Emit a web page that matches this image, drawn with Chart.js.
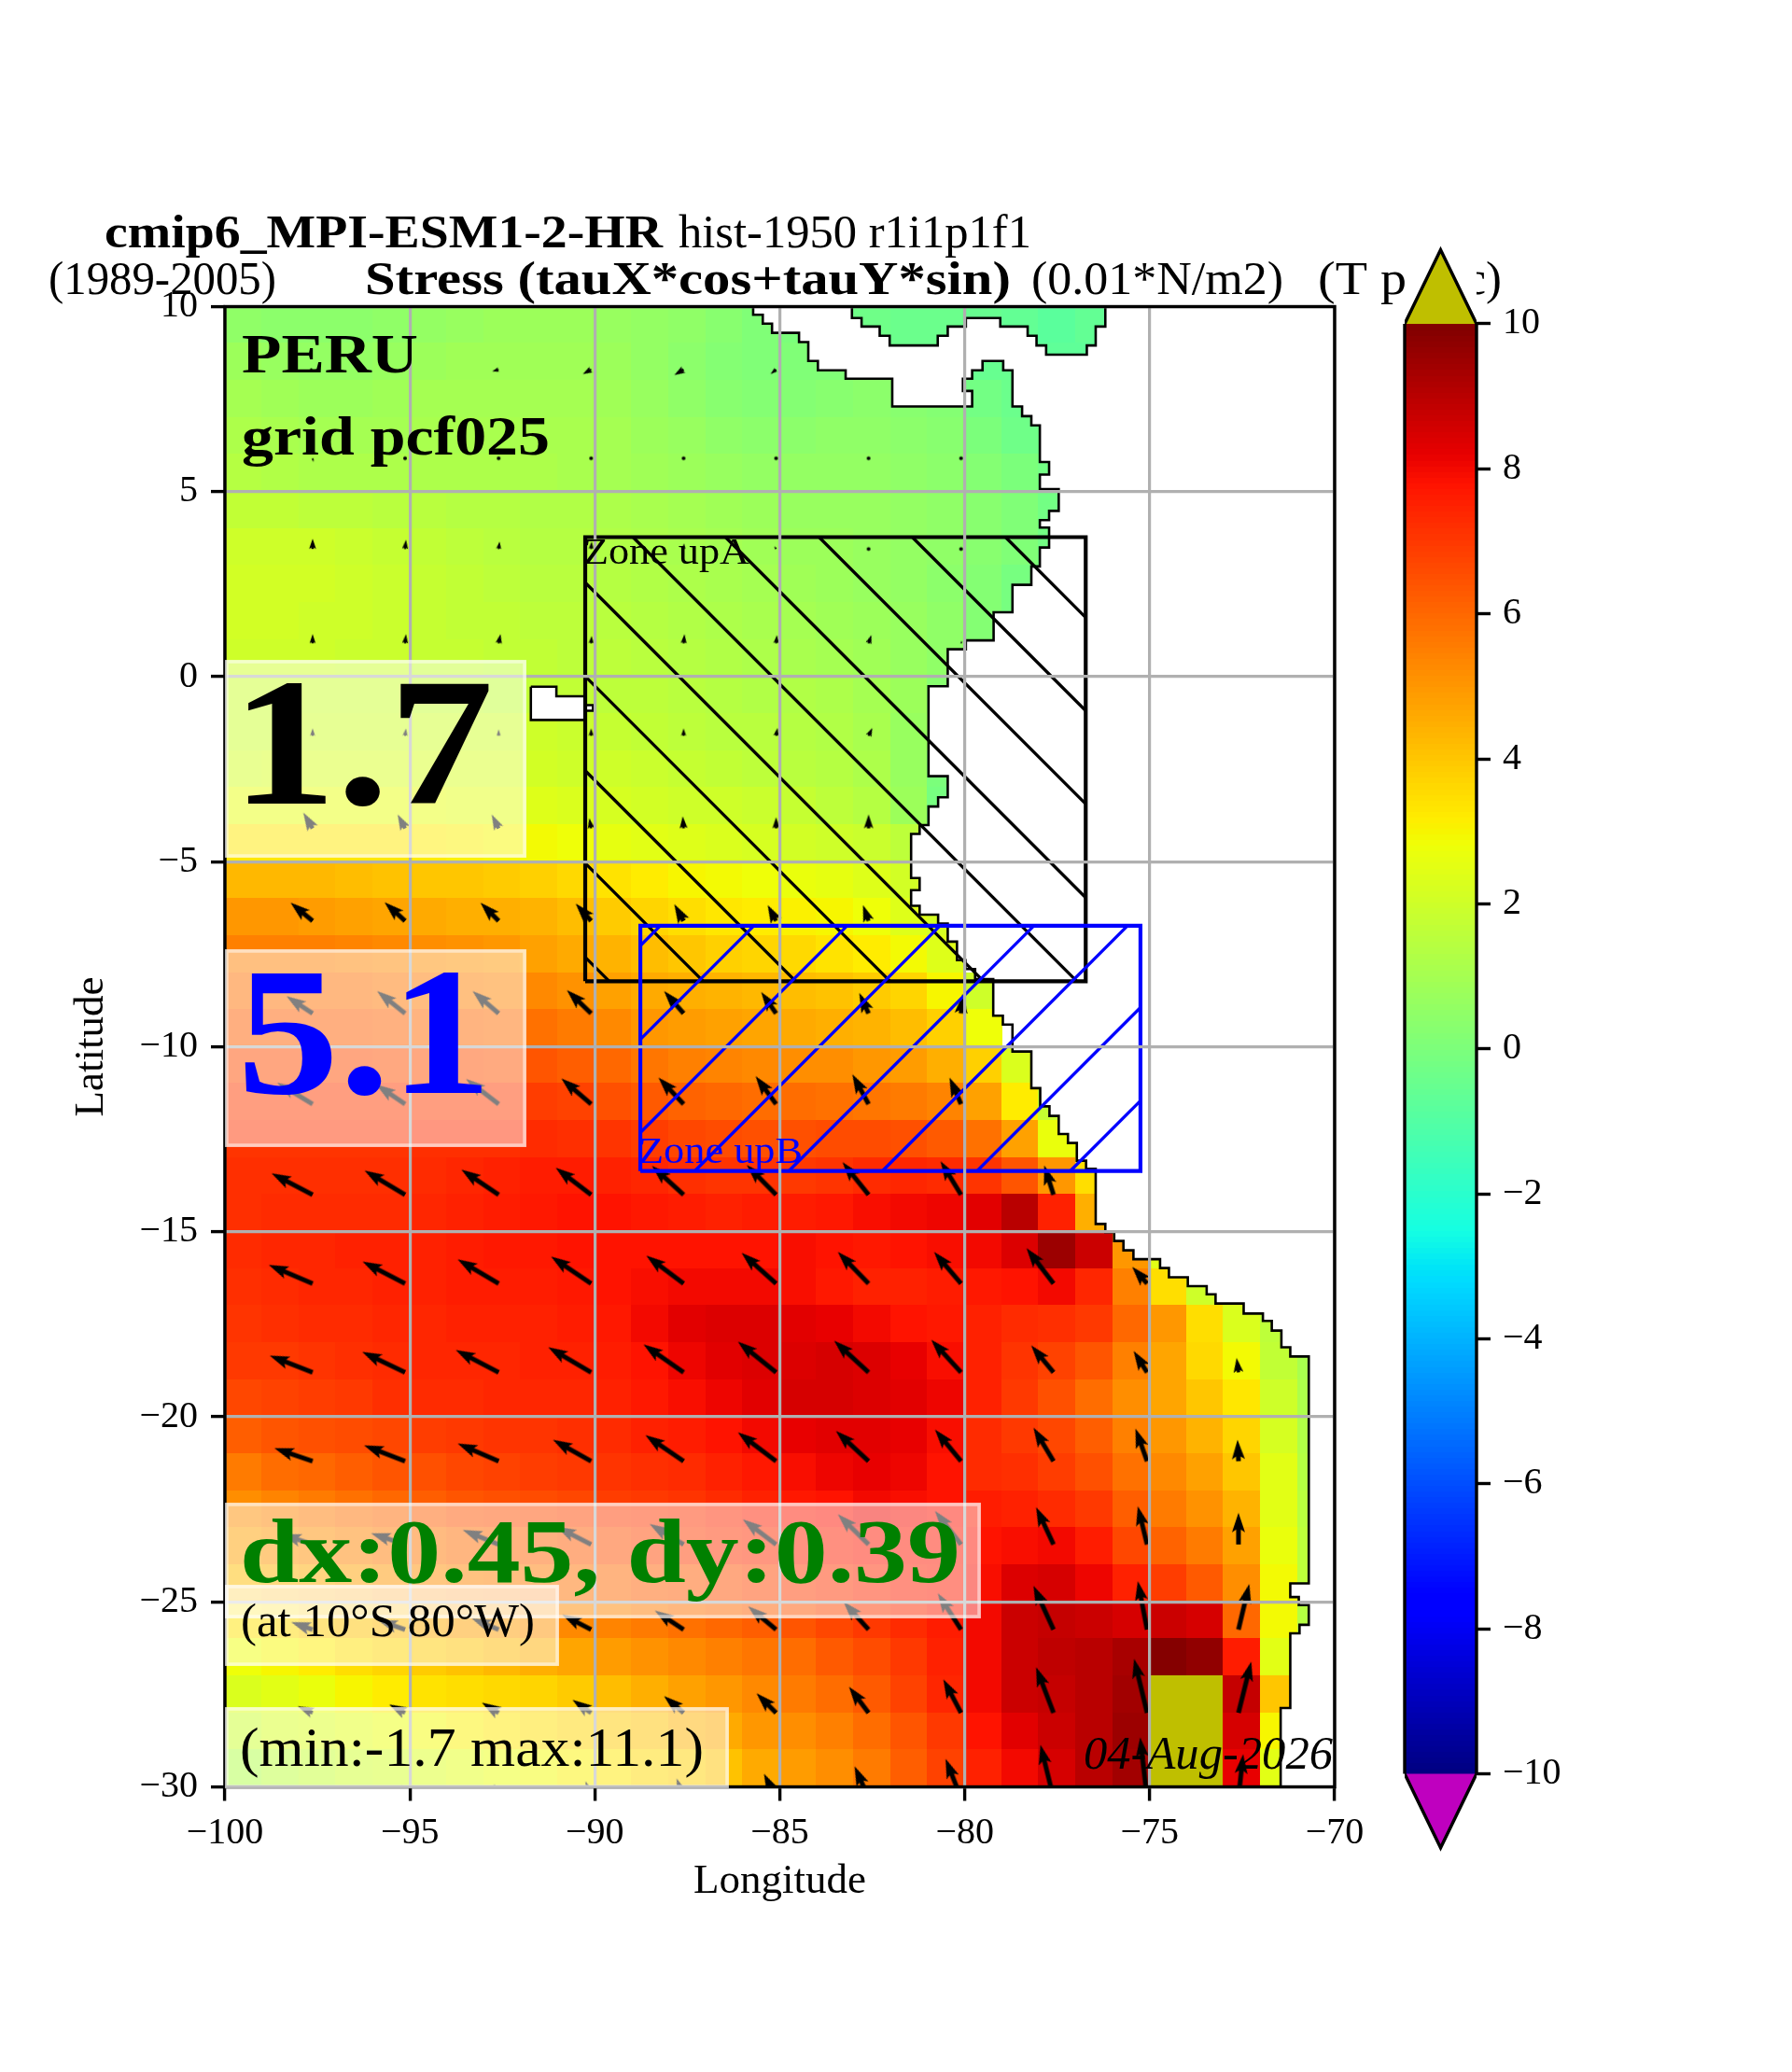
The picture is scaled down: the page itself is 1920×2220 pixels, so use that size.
<!DOCTYPE html>
<html><head><meta charset="utf-8">
<style>html,body{margin:0;padding:0;background:#fff;width:1920px;height:2220px;overflow:hidden}canvas{position:absolute;display:block}</style>
<script src="https://cdn.jsdelivr.net/npm/chart.js@4/dist/chart.umd.js"></script>
</head><body>
<canvas id="main" width="1920" height="2220" style="left:0;top:0;width:1920px;height:2220px"></canvas>
<canvas id="cbar" width="300" height="1820" style="left:1440px;top:203px;width:300px;height:1820px"></canvas>
<script>
const _ = null;
const lonTicks = [-100,-95,-90,-85,-80,-75,-70];
const latTicks = [-30,-25,-20,-15,-10,-5,0,5,10];
const colorbarTicks = [-10,-8,-6,-4,-2,0,2,4,6,8,10];
const heatLons = [-99.5,-98.5,-97.5,-96.5,-95.5,-94.5,-93.5,-92.5,-91.5,-90.5,-89.5,-88.5,-87.5,-86.5,-85.5,-84.5,-83.5,-82.5,-81.5,-80.5,-79.5,-78.5,-77.5,-76.5,-75.5,-74.5,-73.5,-72.5,-71.5,-70.5];
const heatLats = [9.5,8.5,7.5,6.5,5.5,4.5,3.5,2.5,1.5,0.5,-0.5,-1.5,-2.5,-3.5,-4.5,-5.5,-6.5,-7.5,-8.5,-9.5,-10.5,-11.5,-12.5,-13.5,-14.5,-15.5,-16.5,-17.5,-18.5,-19.5,-20.5,-21.5,-22.5,-23.5,-24.5,-25.5,-26.5,-27.5,-28.5,-29.5];
const heatValues = [
[.5,.4,.4,.4,.5,.6,.7,.8,.8,.8,.7,.6,.5,.3,.1,0,_,-.3,-.4,-.4,-.5,-.6,-.8,-.6],
[.8,.7,.6,.6,.7,.8,.9,.9,.9,.9,.8,.6,.4,.2,.1,.1,.1,_,_,_,-.5,-.5,-.7,-.7],
[1,.9,.8,.8,.9,1,1,1,1,1,.9,.7,.5,.3,.2,.2,.3,.4,.3,.2,-.2,-.4],
[1.2,1.1,1,1,1,1.1,1.1,1.1,1.1,1.1,1,.8,.7,.5,.4,.4,.5,.5,.4,.3,0,-.3],
[1.4,1.3,1.2,1.2,1.2,1.2,1.2,1.2,1.2,1.1,1,.9,.8,.7,.6,.6,.6,.6,.5,.4,.2,0,-.2],
[1.7,1.7,1.6,1.6,1.5,1.5,1.4,1.4,1.3,1.3,1.2,1.1,1,.9,.8,.7,.7,.7,.6,.5,.3,.1,-.2],
[2,2,2,1.9,1.8,1.7,1.6,1.5,1.4,1.4,1.3,1.2,1.1,1,.9,.8,.8,.7,.6,.5,.3,.1,-.2],
[2.1,2.1,2.1,2,1.9,1.8,1.7,1.6,1.5,1.5,1.4,1.3,1.2,1.1,1,.9,.8,.7,.6,.4,.2,-.1],
[2.1,2.1,2,2,1.9,1.8,1.7,1.7,1.6,1.6,1.5,1.4,1.3,1.2,1.1,1,.9,.8,.7,.5,.2,-.1],
[2,2,2,1.9,1.9,1.8,1.8,1.7,1.7,1.6,1.6,1.5,1.4,1.3,1.2,1.1,1,.9,.7,.5,.3],
[1.9,1.9,1.9,1.9,1.9,1.8,1.8,1.7,1.7,1.7,1.6,1.6,1.5,1.4,1.3,1.3,1.2,1,.8,.3],
[1.9,1.9,2,2,2,2,2,2,2,1.9,1.8,1.7,1.6,1.5,1.5,1.4,1.3,1.1,.7],
[2.1,2.2,2.2,2.2,2.2,2.2,2.2,2.2,2.1,2,2,1.9,1.8,1.7,1.6,1.5,1.4,1.2,.7,0],
[2.6,2.6,2.6,2.6,2.6,2.6,2.5,2.5,2.4,2.3,2.2,2.1,2,2,1.9,1.8,1.6,1.4,.8,-.1],
[3.3,3.3,3.3,3.3,3.3,3.2,3.1,3,2.9,2.8,2.6,2.5,2.4,2.3,2.2,2.1,2,1.9,1.6],
[4.3,4.3,4.3,4.2,4.1,4,4,3.9,3.8,3.6,3.4,3.2,3,2.9,2.8,2.7,2.6,2.4,2.1],
[5,5,4.9,4.8,4.7,4.6,4.5,4.5,4.4,4.2,3.9,3.7,3.5,3.3,3.2,3.1,3,2.8,2.4,2.2],
[5.5,5.5,5.5,5.4,5.3,5.2,5.1,5,4.8,4.6,4.4,4.2,4,3.8,3.7,3.6,3.4,3.2,2.9,2.4],
[5.8,5.8,5.8,5.8,5.7,5.6,5.5,5.4,5.3,5.1,4.8,4.6,4.5,4.4,4.3,4.2,4.1,3.9,3.7,3,2],
[6.2,6.2,6.2,6.2,6.1,6,6,5.9,5.8,5.6,5.3,5,4.9,4.8,4.7,4.6,4.5,4.4,4.2,3.8,2.8],
[6.6,6.6,6.6,6.6,6.5,6.5,6.5,6.4,6.4,6.2,6,5.7,5.5,5.4,5.3,5.2,5.2,5,4.9,4.5,3.8,2.3],
[6.9,6.9,6.9,6.9,6.9,6.9,6.9,6.9,6.9,6.8,6.5,6.3,6.1,6,5.9,5.9,5.8,5.7,5.6,5.4,4.8,3.2,1.8],
[7.1,7.1,7.1,7.1,7.1,7.2,7.2,7.2,7.3,7.2,7.1,6.9,6.7,6.6,6.5,6.5,6.6,6.6,6.5,6.3,5.8,4.8,2.7],
[7.2,7.2,7.2,7.2,7.2,7.3,7.4,7.5,7.6,7.6,7.5,7.4,7.2,7.1,7.1,7,7.1,7.3,7.4,7.3,7.1,6.4,5,3.5],
[7.2,7.3,7.3,7.3,7.3,7.4,7.5,7.6,7.7,7.8,7.8,7.7,7.6,7.5,7.6,7.6,7.7,7.9,8,8.1,8.3,9,7.5,4.5],
[7.3,7.4,7.4,7.5,7.5,7.5,7.6,7.7,7.7,7.8,7.8,7.8,7.8,7.8,7.8,7.9,7.8,7.7,7.8,7.9,8,8.4,9.5,8.7,5,2.5],
[7.2,7.3,7.4,7.4,7.5,7.5,7.6,7.6,7.6,7.7,7.8,7.9,8,8,8,7.9,7.7,7.5,7.5,7.6,7.7,7.8,8,7.4,5.5,3.5,2,1.6],
[7.1,7.2,7.3,7.3,7.4,7.4,7.5,7.5,7.5,7.6,7.7,8,8.3,8.4,8.4,8.3,8.2,8,7.8,7.7,7.5,7.3,7.2,7,6,5,3.5,2.3,1.6],
[7,7,7.1,7.2,7.3,7.4,7.4,7.4,7.5,7.5,7.6,7.8,8.1,8.3,8.4,8.4,8.5,8.4,8.2,7.9,7.5,7.1,6.8,6.4,5.5,4.7,3.6,2.9,1.7,1.1],
[6.7,6.8,6.9,7,7.2,7.3,7.3,7.4,7.4,7.4,7.5,7.7,7.9,8.1,8.3,8.5,8.5,8.4,8.3,8.1,7.5,7,6.5,5.9,5.2,4.7,4,3.3,2,1.2],
[6.2,6.4,6.5,6.6,6.7,6.9,7,7.1,7.1,7.2,7.3,7.5,7.6,7.8,8,8.2,8.3,8.3,8.2,7.9,7.3,7,6.7,6.2,5.5,5,4.4,3.7,2.2,1.3],
[5.6,5.9,6,6.2,6.4,6.5,6.7,6.8,6.9,7,7.1,7.2,7.3,7.5,7.7,7.9,8.1,8.2,8.1,7.8,7.3,7.2,6.9,6.5,5.8,5.3,4.8,4,2.5,1.4],
[5.2,5.4,5.6,5.8,6,6.2,6.4,6.5,6.6,6.7,6.9,7,7.1,7.3,7.5,7.7,7.8,8,7.9,7.8,7.6,7.5,7.3,7,6.2,5.6,5.1,4.4,2.5,1.5],
[4.8,5,5.2,5.4,5.6,5.7,5.9,6,6.1,6.3,6.5,6.7,6.9,7.1,7.2,7.4,7.5,7.7,7.7,7.7,7.8,7.9,8,7.6,6.7,6.1,5.6,4.8,2.7,1.6],
[4.2,4.4,4.6,4.8,5,5.2,5.4,5.5,5.6,5.8,6,6.2,6.3,6.5,6.7,6.9,7.1,7.3,7.5,7.6,7.9,8.4,8.5,8.1,7.5,6.9,6.3,5.2,2.9,1.6],
[3.4,3.6,3.9,4.1,4.3,4.6,4.8,4.9,5.1,5.3,5.4,5.6,5.8,6,6.2,6.4,6.7,7,7.3,7.6,8,8.7,8.8,8.7,8.5,8.7,8.5,6,2.9,1.4],
[2.8,3,3.2,3.5,3.7,3.9,4.1,4.3,4.5,4.7,4.9,5.1,5.3,5.5,5.7,5.9,6.3,6.6,7,7.5,8,8.7,8.9,9,9.3,9.9,9.7,7.6,2.5],
[2.3,2.5,2.7,3,3.2,3.4,3.5,3.6,3.7,3.9,4.2,4.5,4.8,5,5.3,5.6,5.9,6.3,6.8,7.4,8,8.7,8.8,9,9.4,10.6,10.6,8.8,4],
[1.9,2.2,2.3,2.5,2.7,2.9,3.1,3.3,3.5,3.7,3.9,4.1,4.4,4.6,5,5.2,5.5,5.9,6.4,7,7.8,8.3,8.7,9,9.5,10.6,10.6,8.5,3],
[1.3,1.6,1.8,2,2.1,2.3,2.5,2.7,2.9,3.1,3.3,3.6,3.8,4.1,4.6,4.9,5.2,5.6,6.2,6.8,7.5,8,8.5,9,9.4,10.6,10.6,8.2,2.5]
];
const coastLonLat = [
[-85.72,10],[-85.72,9.78],[-85.46,9.78],[-85.46,9.54],[-85.21,9.54],[-85.21,9.29],[-84.48,9.29],[-84.48,9.04],[-84.23,9.04],[-84.23,8.53],[-83.97,8.53],[-83.97,8.28],[-83.22,8.28],[-83.22,8.05],[-81.96,8.05],[-81.96,7.30],[-79.80,7.30],[-79.80,7.72],[-80.05,7.72],[-80.05,8.05],[-79.80,8.05],[-79.80,8.28],[-79.52,8.28],[-79.52,8.53],[-78.96,8.53],[-78.96,8.28],[-78.71,8.28],[-78.71,7.30],[-78.45,7.30],[-78.45,7.04],[-78.20,7.04],[-78.20,6.79],[-77.97,6.79],[-77.97,5.80],[-77.72,5.80],[-77.72,5.46],[-77.97,5.46],[-77.97,5.07],[-77.46,5.07],[-77.46,4.48],[-77.72,4.48],[-77.72,4.23],[-77.97,4.23],[-77.97,4.03],[-77.72,4.03],[-77.72,3.49],[-77.97,3.49],[-77.97,2.98],[-78.20,2.98],[-78.20,2.48],[-78.71,2.48],[-78.71,1.74],[-79.22,1.74],[-79.22,0.98],[-79.97,0.98],[-79.97,0.74],[-80.46,0.74],
[-80.46,-0.26],[-80.98,-0.26],[-80.98,-2.69],[-80.46,-2.69],[-80.46,-3.26],[-80.72,-3.26],[-80.72,-3.51],[-80.98,-3.51],[-80.98,-4.01],[-81.22,-4.01],[-81.22,-4.25],[-81.45,-4.25],[-81.45,-5.44],[-81.22,-5.44],[-81.22,-5.77],[-81.45,-5.77],[-81.45,-6.19],[-81.22,-6.19],[-81.22,-6.43],[-80.72,-6.43],[-80.72,-6.67],[-80.46,-6.67],[-80.46,-7.16],[-80.21,-7.16],[-80.21,-7.66],[-79.98,-7.66],[-79.98,-7.90],[-79.72,-7.90],[-79.72,-8.17],[-79.23,-8.17],[-79.23,-9.16],[-78.97,-9.16],[-78.97,-9.40],[-78.71,-9.40],[-78.71,-10.13],[-78.20,-10.13],[-78.20,-11.12],[-77.96,-11.12],[-77.96,-11.61],[-77.71,-11.61],[-77.71,-11.87],[-77.46,-11.87],[-77.46,-12.36],[-77.21,-12.36],[-77.21,-12.60],[-76.97,-12.60],[-76.97,-13.08],[-76.72,-13.08],
[-76.72,-13.30],[-76.46,-13.30],[-76.46,-14.79],[-76.20,-14.79],[-76.20,-15.01],[-75.96,-15.01],[-75.96,-15.25],[-75.71,-15.25],[-75.71,-15.50],[-75.44,-15.50],[-75.44,-15.74],[-74.72,-15.74],[-74.72,-15.98],[-74.48,-15.98],[-74.48,-16.23],[-73.97,-16.23],[-73.97,-16.47],[-73.46,-16.47],[-73.46,-16.69],[-73.22,-16.69],[-73.22,-16.94],[-72.46,-16.94],[-72.46,-17.21],[-71.94,-17.21],[-71.94,-17.41],[-71.70,-17.41],[-71.70,-17.67],[-71.44,-17.67],[-71.44,-18.12],[-71.2,-18.12],[-71.2,-18.37],[-70.70,-18.37],[-70.70,-24.50],[-71.2,-24.50],[-71.2,-24.87],[-70.97,-24.87],[-70.97,-25.09],[-70.70,-25.09],[-70.70,-25.62],[-70.95,-25.62],[-70.95,-25.85],[-71.2,-25.85],[-71.2,-27.87],[-71.46,-27.87],[-71.46,-30],
[-70,-30],[-70,10],[-76.20,10],[-76.20,9.46],[-76.46,9.46],[-76.46,8.95],[-76.70,8.95],[-76.70,8.70],[-77.80,8.70],[-77.80,8.95],[-78.06,8.95],[-78.06,9.21],[-78.30,9.21],[-78.30,9.46],[-79.04,9.46],[-79.04,9.69],[-79.97,9.69],[-79.97,9.46],[-80.46,9.46],[-80.46,9.21],[-80.73,9.21],[-80.73,8.95],[-82.03,8.95],[-82.03,9.21],[-82.30,9.21],[-82.30,9.46],[-82.79,9.46],[-82.79,9.69],[-83.05,9.69],[-83.05,10],[-85.72,10]
];
const islandLonLat = [[-91.73,-0.27],[-91.04,-0.27],[-91.04,-0.53],[-90.26,-0.53],[-90.26,-0.77],[-90.05,-0.77],[-90.05,-0.92],[-90.26,-0.92],[-90.26,-1.17],[-91.73,-1.17],[-91.73,-0.27]];
const arrowLats = [8.3,5.9,3.45,0.9,-1.6,-4.1,-6.6,-9.1,-11.55,-14,-16.4,-18.8,-21.2,-23.45,-25.75,-28,-30.3];
const arrowLons = [-97.63,-95.13,-92.6,-90.1,-87.6,-85.1,-82.6,-80.1,-77.6,-75.07,-72.6];
const arrowU = [
[-6,-6,-7,-9,-10,-6],
[1,0,0,0,0,0,0,0],
[0,1,1,.5,.5,-2,0,0],
[0,1,2,.5,1,1,3,1],
[0,1,0,0,0,1.5,4],
[-10,-8,-7.5,-2,-1,0,0],
[-23.6,-22,-19.5,-16.6,-10,-9,-6],
[-28,-30,-28,-26,-21,-16,-10,2],
[-38,-31,-35,-32,-27,-22,-17.4,-12.4],
[-44,-43.5,-40,-38,-34,-31.5,-28,-22,-10],
[-47,-45.6,-44,-43,-40,-37,-33,-29,-29,-16],
[-46,-46,-46,-46,-43,-41,-37,-32,-24,-14.5,-2],
[-41,-44,-44,-41,-41,-41,-35,-28,-21.5,-12.5,-1],
[-33,-36.5,-38.6,-37,-36.5,-35.7,-33,-28,-18.7,-10,0],
[-23,-29,-29,-31,-31,-30,-27,-25,-21.5,-10,11.6],
[-16,-17,-18,-20,-21,-21,-21,-19,-18.7,-14,13.7],
[-3,-4,-5,-6,-7.5,-13,-15,-16.6,-14,-7.5,5]
];
const arrowV = [
[-2,-2,-2,-5,-6,-5],
[-4,-.5,-.5,-.5,-.5,-.5,-.5,-.5],
[11,10,8,8,6,3,.5,.5],
[10,10,10,8,10,9,9,3],
[8,8,7,8,8,8.5,8.5],
[17,15,15,11,13,12,15],
[19.6,20,19.6,18.6,18,17,17],
[18.5,24,24,25,24,23,22,21],
[23,21,27,27.5,28.5,30,32,28.5],
[23,26,27,29,31,32,35,36,31.5],
[20,23.6,26,29,30,33,34,34,38,18],
[18,22,24,27,30,33,34,35,29,23,15.5],
[14,17,19,23,28,31,32.5,34,36,35,23],
[11,12,15.6,19,22,27,32.5,36,40,41,34],
[8,10,12,16,20.5,25,30,39,47,52,49],
[7,9,11,14,18,21,28,36,49,58,55],
[12,14,15,18,21,26,34,42,57,65,47]
];
const zoneABox = {lonMin:-90.26,lonMax:-76.73,latMin:-8.23,latMax:3.77};
const zoneBBox = {lonMin:-88.77,lonMax:-75.25,latMin:-13.36,latMax:-6.73};
const zoneAHatch = [-75.13,-77.65,-80.17,-82.7,-85.2,-87.72,-90.25,-92.8,-95.3,-97.84];
const zoneBHatch = [81.5,78.97,76.45,73.94,71.4,68.87,66.31,63.79];

const SERIF = '"Liberation Serif"';
function lerp(pts,t){for(let i=1;i<pts.length;i++){if(t<=pts[i][0]){const a=pts[i-1],b=pts[i];return a[1]+(b[1]-a[1])*(t-a[0])/(b[0]-a[0]);}}return pts[pts.length-1][1];}
function jet(v){
  if(v>10)return '#bfbf00'; if(v<-10)return '#bf00bf';
  const t=(v+10)/20;
  const r=lerp([[0,0],[.35,0],[.66,1],[.89,1],[1,.5]],t),g=lerp([[0,0],[.125,0],[.375,1],[.64,1],[.91,0],[1,0]],t),b=lerp([[0,.5],[.11,1],[.34,1],[.65,0],[1,0]],t);
  return `rgb(${Math.round(r*255)},${Math.round(g*255)},${Math.round(b*255)})`;
}
const cellCache={};
function cellImage(color,w,h){
  const k=color+w+'x'+h; if(cellCache[k])return cellCache[k];
  const c=document.createElement('canvas');c.width=w;c.height=h;
  const x=c.getContext('2d');x.fillStyle=color;x.fillRect(0,0,w,h);
  return cellCache[k]=c;
}
function arrowImage(L){
  const pad=14,W=Math.ceil(2*L+2*pad),H=2*pad,c=document.createElement('canvas');c.width=W;c.height=H;
  const x=c.getContext('2d');x.translate(W/2,H/2);x.fillStyle='#000';
  if(L<2){x.beginPath();x.arc(0,0,2,0,7);x.fill();return c;}
  const s=Math.min(1,L/21),sw=5*s,hl=21*s,hal=18*s,hw=14*s;
  x.beginPath();x.moveTo(0,-sw/2);x.lineTo(L-hal,-sw/2);x.lineTo(L-hl,-hw/2);x.lineTo(L,0);x.lineTo(L-hl,hw/2);x.lineTo(L-hal,sw/2);x.lineTo(0,sw/2);x.closePath();x.fill();
  return c;
}
function xy(list){return list.map(p=>({x:p[0],y:p[1]}));}
function hatch(box,consts,sign){ // sign -1: lat+lon=c ; +1: lat-lon=c
  const out=[];
  for(const c of consts){
    const f=lon=>sign<0?c-lon:c+lon, inv=lat=>sign<0?c-lat:lat-c;
    let a=[box.lonMin,f(box.lonMin)],b=[box.lonMax,f(box.lonMax)];
    const fix=p=>{if(p[1]>box.latMax)return[inv(box.latMax),box.latMax];if(p[1]<box.latMin)return[inv(box.latMin),box.latMin];return p;};
    a=fix(a);b=fix(b);
    out.push({x:a[0],y:a[1]},{x:b[0],y:b[1]},{x:NaN,y:NaN});
  }
  return out;
}
function rectPts(b){return [[b.lonMin,b.latMin],[b.lonMin,b.latMax],[b.lonMax,b.latMax],[b.lonMax,b.latMin],[b.lonMin,b.latMin]];}

const heatPoints=[];
heatLats.forEach((lat,r)=>heatLons.forEach((lon,c)=>{const v=heatValues[r][c];if(v!==null&&v!==undefined)heatPoints.push({x:lon,y:lat,v});}));
const arrowPoints=[];
arrowLats.forEach((lat,r)=>arrowU[r].forEach((u,c)=>arrowPoints.push({x:arrowLons[c],y:lat,u,v:arrowV[r][c]})));

function T(ctx,s,x0,x1,base,font,color){
  ctx.save();ctx.font=font;ctx.fillStyle=color||'#000';ctx.textBaseline='alphabetic';ctx.textAlign='left';
  const m=ctx.measureText(s).width;ctx.translate(x0,base);ctx.scale((x1-x0)/m,1);ctx.fillText(s,0,0);ctx.restore();
}
function box(ctx,x0,y0,x1,y1){
  ctx.save();ctx.fillStyle='rgba(255,255,255,.5)';ctx.fillRect(x0,y0,x1-x0,y1-y0);
  ctx.strokeStyle='rgba(255,255,255,.5)';ctx.lineWidth=3.5;ctx.strokeRect(x0+2,y0+2,x1-x0-4,y1-y0-4);ctx.restore();
}
const overlay={id:'overlay',afterDraw(ch){
  const c=ch.ctx,a=ch.chartArea;
  c.save();c.strokeStyle='#000';c.lineWidth=3.4;c.strokeRect(a.left,a.top,a.right-a.left,a.bottom-a.top);c.restore();
  const B='bold ',S='px '+SERIF;
  T(c,'PERU',259,448,399,B+'60'+S);
  T(c,'grid pcf025',259,589,487,B+'60'+S);
  T(c,'Zone upA',625,803,604,'40'+S);
  T(c,'Zone upB',684,860,1246,'40'+S,'#0000ff');
  box(c,241,707,564,919);T(c,'1.7',248,529,861,B+'196'+S);
  box(c,241,1017,564,1229);T(c,'5.1',254,527,1171,B+'196'+S,'#0000ff');
  box(c,241,1610,1051,1734);T(c,'dx:0.45, dy:0.39',257,1029,1695,B+'98'+S,'#008000');
  box(c,241,1698,599,1785);T(c,'(at 10°S 80°W)',258,573,1753,'50'+S);
  box(c,241,1829,781,1916);T(c,'(min:-1.7 max:11.1)',257,754,1892,'60'+S);
  T(c,'04-Aug-2026',1161,1428,1895,'italic 50'+S);
  T(c,'cmip6_MPI-ESM1-2-HR',112,710,265,B+'50'+S);
  T(c,'hist-1950 r1i1p1f1',727,1105,265,'50'+S);
  T(c,'(1989-2005)',52,296,315,'50'+S);
  T(c,'Stress (tauX*cos+tauY*sin)',391,1083,315,B+'50'+S);
  T(c,'(0.01*N/m2)',1105,1375,315,'50'+S);
  T(c,'(T p',1412,1507,315,'50'+S);
  T(c,'ac)',1547,1609,315,'50'+S);
}};
const fmt=v=>String(v).replace('-','\u2212');
const tickFont={family:SERIF,size:40};
new Chart(document.getElementById('main'),{
  type:'scatter',
  data:{datasets:[
    {label:'field',order:10,data:heatPoints,showLine:false,pointRadius:30,pointBorderWidth:0,
      pointStyle(ctx){return cellImage(jet(ctx.raw.v),41,41);}},
    {label:'land',order:9,data:xy(coastLonLat),showLine:true,fill:'shape',backgroundColor:'#fff',borderColor:'#000',borderWidth:2.6,pointRadius:0,tension:0},
    {label:'island',order:8,data:xy(islandLonLat),showLine:true,fill:'shape',backgroundColor:'#fff',borderColor:'#000',borderWidth:2.6,pointRadius:0,tension:0},
    {label:'stress',order:7,data:arrowPoints,showLine:false,pointRadius:70,pointBorderWidth:0,
      pointStyle(ctx){const d=ctx.raw;return arrowImage(Math.hypot(d.u,d.v));},
      rotation(ctx){const d=ctx.raw;return -Math.atan2(d.v,d.u)*180/Math.PI;}},
    {label:'Zone upA hatch',order:5,data:hatch(zoneABox,zoneAHatch,-1),showLine:true,spanGaps:false,borderColor:'#000',borderWidth:3.3,pointRadius:0},
    {label:'Zone upA',order:4,data:xy(rectPts(zoneABox)),showLine:true,borderColor:'#000',borderWidth:4.2,pointRadius:0},
    {label:'Zone upB hatch',order:3,data:hatch(zoneBBox,zoneBHatch,1),showLine:true,spanGaps:false,borderColor:'#0000ff',borderWidth:3.3,pointRadius:0},
    {label:'Zone upB',order:2,data:xy(rectPts(zoneBBox)),showLine:true,borderColor:'#0000ff',borderWidth:4.2,pointRadius:0}
  ]},
  options:{responsive:false,animation:false,devicePixelRatio:1,events:[],
    layout:{padding:{left:71,top:328.5,right:490,bottom:177}},
    plugins:{legend:{display:false},tooltip:{enabled:false}},
    scales:{
      x:{type:'linear',min:-100,max:-70,afterFit(s){s.height=128.5;},
        afterBuildTicks(s){s.ticks=lonTicks.map(v=>({value:v}));},
        ticks:{callback:fmt,font:tickFont,color:'#000',maxRotation:0,autoSkip:false,padding:11},
        grid:{color:'#b0b0b0',lineWidth:3.2,z:1,tickColor:'#000',tickWidth:3.4,tickLength:15},
        border:{display:false},
        title:{display:true,text:'Longitude',font:{family:SERIF,size:45},color:'#000',padding:{top:0,bottom:0}}},
      y:{type:'linear',min:-30,max:10,afterFit(s){s.width=170;},
        afterBuildTicks(s){s.ticks=latTicks.map(v=>({value:v}));},
        ticks:{callback:fmt,font:tickFont,color:'#000',autoSkip:false,padding:14},
        grid:{color:'#b0b0b0',lineWidth:3.2,z:1,tickColor:'#000',tickWidth:3.4,tickLength:15},
        border:{display:false},
        title:{display:true,text:'Latitude',font:{family:SERIF,size:45},color:'#000',padding:{top:0,bottom:0}}}
    }},
  plugins:[overlay]
});
const barLevels=[];for(let i=0;i<256;i++)barLevels.push(-10+(i+.5)*20/256);
const cbFrame={id:'cbFrame',
  beforeDatasetsDraw(ch){const c=ch.ctx,a=ch.chartArea,y=ch.scales.y;c.save();c.fillStyle='#fff';c.fillRect(a.left,y.getPixelForValue(11.02),a.right-a.left,y.getPixelForValue(10)-y.getPixelForValue(11.02));c.restore();},
  afterDraw(ch){const c=ch.ctx,a=ch.chartArea,y=ch.scales.y;c.save();c.strokeStyle='#000';c.lineWidth=3.4;c.beginPath();
    c.moveTo(a.left,y.getPixelForValue(10));c.lineTo(a.left,y.getPixelForValue(-10));c.moveTo(a.right,y.getPixelForValue(10));c.lineTo(a.right,y.getPixelForValue(-10));c.stroke();c.restore();}
};
new Chart(document.getElementById('cbar'),{
  type:'scatter',
  data:{datasets:[
    {label:'colorbar',order:3,data:barLevels.map(v=>({x:.5,y:v})),showLine:false,pointRadius:30,pointBorderWidth:0,
      pointStyle(ctx){return cellImage(jet(ctx.raw.y),77,8);}},
    {label:'over',order:2,data:[{x:0,y:10},{x:.5,y:11.02},{x:1,y:10}],showLine:true,fill:'shape',backgroundColor:'#bfbf00',borderColor:'#000',borderWidth:3.4,pointRadius:0},
    {label:'under',order:1,data:[{x:0,y:-10},{x:.5,y:-11.02},{x:1,y:-10}],showLine:true,fill:'shape',backgroundColor:'#bf00bf',borderColor:'#000',borderWidth:3.4,pointRadius:0}
  ]},
  options:{responsive:false,animation:false,devicePixelRatio:1,events:[],
    layout:{padding:{left:65,top:58.5,right:0,bottom:36.5}},
    plugins:{legend:{display:false},tooltip:{enabled:false}},
    scales:{
      x:{type:'linear',min:0,max:1,display:false},
      y:{type:'linear',position:'right',min:-11.1,max:11.1,afterFit(s){s.width=158;},
        afterBuildTicks(s){s.ticks=colorbarTicks.map(v=>({value:v}));},
        ticks:{callback:fmt,font:tickFont,color:'#000',autoSkip:false,padding:13},
        grid:{drawOnChartArea:false,drawTicks:true,tickColor:'#000',tickWidth:3.4,tickLength:15},
        border:{display:false}}
    }},
  plugins:[cbFrame]
});
</script>
</body></html>
